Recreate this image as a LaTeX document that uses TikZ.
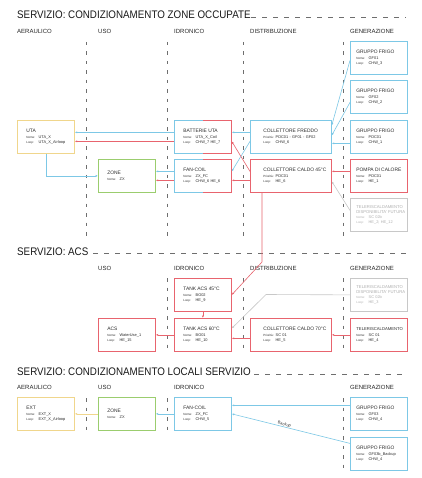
\documentclass[tikz,border=0pt]{standalone}
\usepackage{fontspec}
\usepackage{graphicx}
\setmainfont{Liberation Sans}
\usetikzlibrary{arrows.meta}
\definecolor{cblue}{RGB}{125,200,230}
\definecolor{cred}{RGB}{232,100,110}
\definecolor{cyel}{RGB}{240,214,140}
\definecolor{cgreen}{RGB}{155,205,110}
\definecolor{cgray}{RGB}{200,200,200}
\definecolor{gtxt}{RGB}{175,175,175}
\definecolor{txt}{RGB}{45,45,45}
\definecolor{dashc}{RGB}{110,110,110}
\newcommand\BT[1]{\mbox{\fontsize{4.9}{5}\selectfont #1}}
\newcommand\BTs[1]{\mbox{\fontsize{4.2}{5}\selectfont #1}}
\newcommand\BF[2]{\mbox{\makebox[12.3pt][l]{\fontsize{3}{4}\selectfont #1}#2}}
\newcommand\TT[1]{\scalebox{1}[1.12]{#1}}
\begin{document}
\begin{tikzpicture}[x=1pt,y=-1pt,
  bx/.style={line width=0.75pt, anchor=north west, minimum height=33pt, inner ysep=0pt, align=left, font=\fontsize{3.9}{5}\selectfont, text=txt},
  sw/.style={minimum width=57pt, text width=39pt, inner xsep=9pt},
  gw/.style={minimum width=57pt, text width=45pt, inner xsep=6pt},
  cw/.style={minimum width=81pt, text width=55pt, inner xsep=13pt},
  bline/.style={line width=0.75pt},
  arr/.style={-{Latex[length=2.4pt,width=2pt]}, line width=0.6pt},
  title/.style={anchor=base west, inner sep=0pt, font=\fontsize{9.8}{11}\selectfont, text=black!90},
  head/.style={anchor=base west, inner sep=0pt, font=\fontsize{6}{7}\selectfont, text=black!85},
  tdash/.style={dashc, line width=0.7pt, dash pattern=on 5pt off 6pt},
  vdash/.style={dashc, line width=0.6pt, dash pattern=on 3.5pt off 6pt}]
\useasboundingbox (0,0) rectangle (421,478);
\fill[white] (0,0) rectangle (421,478);

% ---------- Section 1 ----------
\node[title] (t1) at (17,18.3) {\TT{SERVIZIO: CONDIZIONAMENTO ZONE OCCUPATE}};
\draw[tdash] (251,17.3) -- (406,17.3);
\node[head] (h1a) at (17,33.2) {AERAULICO};
\node[head] (h1b) at (98,33.2) {USO};
\node[head] (h1c) at (174,33.2) {IDRONICO};
\node[head] (h1d) at (250,33.2) {DISTRIBUZIONE};
\node[head] (h1e) at (350,33.2) {GENERAZIONE};
\foreach \x in {86,167,243,343} \draw[vdash] (\x,42) -- (\x,236);

\node[bx,sw,draw=cyel] (uta) at (17,120) {\BT{UTA}\\[0.7pt]\BF{Nome:}{UTA\_X}\\\BF{Loop:}{UTA\_X\_Airloop}};
\node[bx,sw,draw=cgreen] (zone1) at (98,159) {\BT{ZONE}\\[0.7pt]\BF{Nome:}{ZX}};
\node[bx,sw] (batt) at (174,120) {\BT{BATTERIE UTA}\\[0.7pt]\BF{Nome:}{UTA\_X\_Coil}\\\BF{Loop:}{CHW\_7 HE\_7}};
\node[bx,sw] (fc1) at (174,159) {\BT{FAN-COIL}\\[0.7pt]\BF{Nome:}{ZX\_FC}\\\BF{Loop:}{CHW\_6 HE\_6}};
\draw[bline,cblue] (batt.north) -| (batt.south west) -- (batt.south);
\draw[bline,cred] (batt.north) -| (batt.south east) -- (batt.south);
\draw[bline,cblue] (fc1.north) -| (fc1.south west) -- (fc1.south);
\draw[bline,cred] (fc1.north) -| (fc1.south east) -- (fc1.south);
\node[bx,cw,draw=cblue] (cf) at (250,120) {\BT{COLLETTORE FREDDO}\\[0.7pt]\BF{Priorità:}{PDC01 - GF01 - GF02}\\\BF{Loop:}{CHW\_6}};
\node[bx,cw,draw=cred] (cc45) at (250,159) {\BT{COLLETTORE CALDO 45°C}\\[0.7pt]\BF{Priorità:}{PDC01}\\\BF{Loop:}{HE\_6}};
\node[bx,gw,draw=cblue] (gf01) at (350,41) {\BT{GRUPPO FRIGO}\\[0.7pt]\BF{Nome:}{GF01}\\\BF{Loop:}{CHW\_3}};
\node[bx,gw,draw=cblue] (gf02) at (350,80) {\BT{GRUPPO FRIGO}\\[0.7pt]\BF{Nome:}{GF02}\\\BF{Loop:}{CHW\_2}};
\node[bx,gw,draw=cblue] (pdcf) at (350,120) {\BT{GRUPPO FRIGO}\\[0.7pt]\BF{Nome:}{PDC01}\\\BF{Loop:}{CHW\_1}};
\node[bx,gw,draw=cred] (pdc) at (350,159) {\BT{POMPA DI CALORE}\\[0.7pt]\BF{Nome:}{PDC01}\\\BF{Loop:}{HE\_1}};
\node[bx,gw,draw=cgray,text=gtxt] (tlf1) at (350,198) {\BTs{TELERISCALDAMENTO}\\\BTs{DISPONIBILITA' FUTURA}\\[0.4pt]\BF{Nome:}{SC 02b}\\\BF{Loop:}{HE\_2; HE\_12}};

\draw[arr,cblue] ([yshift=4.5pt]batt.west) -- ([yshift=4.5pt]uta.east);
\draw[arr,cred] ([yshift=-4.5pt]batt.west) -- ([yshift=-4.5pt]uta.east);
\draw[arr,cblue] (uta.south) |- (zone1.west);
\draw[arr,cblue] ([yshift=4.5pt]fc1.west) -- ([yshift=4.5pt]zone1.east);
\draw[arr,cred] ([yshift=-4.5pt]fc1.west) -- ([yshift=-4.5pt]zone1.east);
\draw[arr,cblue] ([yshift=4.5pt]cf.west) -- ([yshift=4.5pt]batt.east);
\draw[arr,cblue] ([yshift=-4.5pt]cf.west) -- ([yshift=4.5pt]fc1.east);
\draw[arr,cred] ([yshift=4.5pt]cc45.west) -- ([yshift=-4.5pt]batt.east);
\draw[arr,cred] ([yshift=-4.5pt]cc45.west) -- ([yshift=-4.5pt]fc1.east);
\draw[arr,cblue] ([yshift=-2.5pt]gf01.west) -- ([yshift=11.5pt]cf.east);
\draw[arr,cblue] ([yshift=-5.5pt]gf02.west) -- ([yshift=1.5pt]cf.east);
\draw[arr,cblue] ([yshift=-6.5pt]pdcf.west) -- ([yshift=-6.5pt]cf.east);
\draw[arr,cred] ([yshift=4.5pt]pdc.west) -- ([yshift=4.5pt]cc45.east);
\draw[arr,cgray] ([yshift=4.5pt]tlf1.west) -- ([yshift=-5.5pt]cc45.east);

% ---------- Section 2 ----------
\node[title] (t2) at (17,255) {\TT{SERVIZIO: ACS}};
\draw[tdash] (93,253) -- (406,253);
\node[head] (h2b) at (98,270) {USO};
\node[head] (h2c) at (174,270) {IDRONICO};
\node[head] (h2d) at (250,270) {DISTRIBUZIONE};
\node[head] (h2e) at (350,270) {GENERAZIONE};
\foreach \x in {167,243,343} \draw[vdash] (\x,278) -- (\x,351);

\node[bx,sw,draw=cred] (tank45) at (174,278) {\BT{TANK ACS 45°C}\\[0.7pt]\BF{Nome:}{BO02}\\\BF{Loop:}{HE\_9}};
\node[bx,sw,draw=cred] (tank60) at (174,318) {\BT{TANK ACS 60°C}\\[0.7pt]\BF{Nome:}{BO01}\\\BF{Loop:}{HE\_10}};
\node[bx,sw,draw=cred] (acs) at (98,318) {\BT{ACS}\\[0.7pt]\BF{Nome:}{WaterUse\_1}\\\BF{Loop:}{HE\_15}};
\node[bx,cw,draw=cred] (cc70) at (250,318) {\BT{COLLETTORE CALDO 70°C}\\[0.7pt]\BF{Priorità:}{SC 01}\\\BF{Loop:}{HE\_5}};
\node[bx,gw,draw=cred] (tlr) at (350,318) {\BTs{TELERISCALDAMENTO}\\[0.7pt]\BF{Nome:}{SC 01}\\\BF{Loop:}{HE\_4}};
\node[bx,gw,draw=cgray,text=gtxt] (tlf2) at (350,278) {\BTs{TELERISCALDAMENTO}\\\BTs{DISPONIBILITA' FUTURA}\\[0.4pt]\BF{Nome:}{SC 02b}\\\BF{Loop:}{HE\_3}};

\coordinate (k1) at (262,262);
\draw[arr,cred] (cc45.south -| k1) -- (k1) -- (tank45.east);
\draw[arr,cred] (tank45.south) -- (tank60.north);
\draw[arr,cred] (tank60.west) -- (acs.east);
\draw[arr,cred] ([yshift=-3.5pt]cc70.west) -- ([yshift=-3.5pt]tank60.east);
\draw[arr,cred] (tlr.west) -- (cc70.east);
\coordinate (k2) at (266,294.5);
\draw[arr,cgray] (tlf2.west) -- (k2) -- ([yshift=6.5pt]tank60.east);

% ---------- Section 3 ----------
\node[title] (t3) at (17,375) {\TT{SERVIZIO: CONDIZIONAMENTO LOCALI SERVIZIO}};
\draw[tdash] (254,374) -- (406,374);
\node[head] (h3a) at (17,389.3) {AERAULICO};
\node[head] (h3b) at (98,389.3) {USO};
\node[head] (h3c) at (174,389.3) {IDRONICO};
\node[head] (h3e) at (350,389.3) {GENERAZIONE};
\foreach \x in {86,167} \draw[vdash] (\x,398) -- (\x,431);
\draw[vdash] (343,398) -- (343,470);

\node[bx,sw,draw=cyel] (ext) at (17,397) {\BT{EXT}\\[0.7pt]\BF{Nome:}{EXT\_X}\\\BF{Loop:}{EXT\_X\_Airloop}};
\node[bx,sw,draw=cgreen] (zone3) at (98,397) {\BT{ZONE}\\[0.7pt]\BF{Nome:}{ZX}};
\node[bx,sw,draw=cblue] (fc3) at (174,397) {\BT{FAN-COIL}\\[0.7pt]\BF{Nome:}{ZX\_FC}\\\BF{Loop:}{CHW\_5}};
\node[bx,gw,draw=cblue] (gf03) at (350,397) {\BT{GRUPPO FRIGO}\\[0.7pt]\BF{Nome:}{GF03}\\\BF{Loop:}{CHW\_4}};
\node[bx,gw,draw=cblue] (gf03b) at (350,437) {\BT{GRUPPO FRIGO}\\[0.7pt]\BF{Nome:}{GF03b\_Backup}\\\BF{Loop:}{CHW\_4}};

\draw[arr,cyel] (zone3.west) -- (ext.east);
\draw[arr,cblue] (fc3.west) -- (zone3.east);
\draw[arr,cblue] ([yshift=8.5pt]gf03.west) -- ([yshift=8.5pt]fc3.east);
\draw[arr,cblue] ([yshift=10.5pt]gf03b.west) -- node[pos=0.56, sloped, above, inner sep=0.3pt, font=\fontsize{4}{5}\selectfont, text=txt] (lbk) {Backup} (fc3.east);
\end{tikzpicture}
\end{document}
